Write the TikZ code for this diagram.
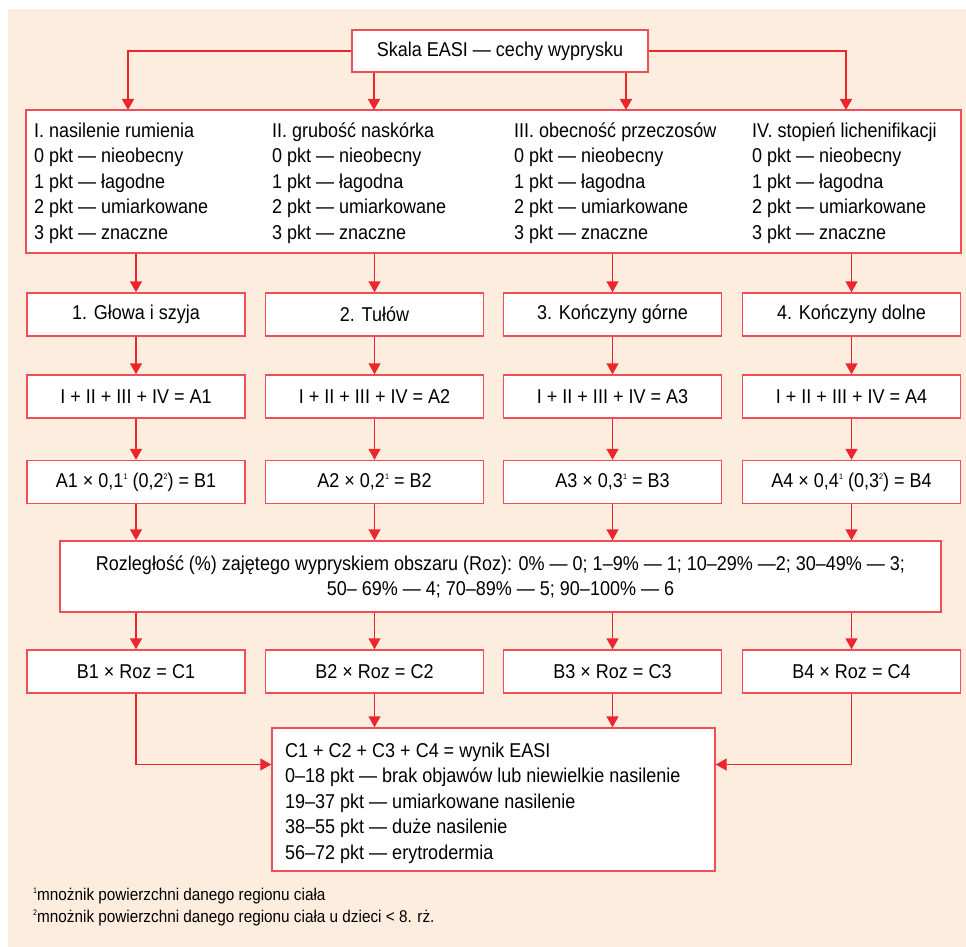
\documentclass[tikz,border=0pt]{standalone}
\usepackage{fontspec}
\setmainfont{Liberation Sans}[FakeStretch=0.9]
\usetikzlibrary{arrows.meta}

\definecolor{easibg}{RGB}{253,237,222}
\definecolor{easired}{RGB}{237,38,46}
\definecolor{easiline}{RGB}{240,78,84}

\newcommand{\fnmark}[1]{\raisebox{0.75ex}{\fontsize{8}{8}\selectfont #1}}

\tikzset{
  box/.style={draw=easiline, line width=1.4pt, fill=white, inner sep=0pt,
              align=center, font=\fontsize{20}{25}\selectfont},
  cell/.style={box, minimum width=218pt, minimum height=43pt},
  txt/.style={inner sep=0pt, align=left, anchor=base west,
              font=\fontsize{20}{25.5}\selectfont},
  note/.style={inner sep=0pt, align=left, anchor=base west,
               font=\fontsize{17}{22}\selectfont},
  arr/.style={draw=easired, line width=1.4pt,
              -{Triangle[width=12pt,length=11pt]}},
}

\begin{document}
\begin{tikzpicture}[x=1pt, y=-1pt]
    \useasboundingbox (0,0) rectangle (966,947);
    \fill[easibg] (8,9) rectangle (966,947);

    \node[box, minimum width=296pt, minimum height=42pt] (top) at (500,51)
      {Skala EASI — cechy wyprysku};

    % base anchor sits on the last line
    \node[box, minimum width=935pt, minimum height=143pt] (crit) at (493.5,181.5) {};
    \node[txt] (k1) at (34,239) {I. nasilenie rumienia\\0 pkt — nieobecny\\1 pkt — łagodne\\2 pkt — umiarkowane\\3 pkt — znaczne};
    \node[txt] (k2) at (272,239) {II. grubość naskórka\\0 pkt — nieobecny\\1 pkt — łagodna\\2 pkt — umiarkowane\\3 pkt — znaczne};
    \node[txt] (k3) at (514,239) {III. obecność przeczosów\\0 pkt — nieobecny\\1 pkt — łagodna\\2 pkt — umiarkowane\\3 pkt — znaczne};
    \node[txt] (k4) at (752,239) {IV. stopień lichenifikacji\\0 pkt — nieobecny\\1 pkt — łagodna\\2 pkt — umiarkowane\\3 pkt — znaczne};

    \foreach \i/\x/\reg/\mul in {
        1/136/{1. Głowa i szyja}/{A1 × 0,1\fnmark{1} (0,2\fnmark{2}) = B1},
        2/374.5/{2. Tułów}/{A2 × 0,2\fnmark{1} = B2},
        3/612.5/{3. Kończyny górne}/{A3 × 0,3\fnmark{1} = B3},
        4/851.5/{4. Kończyny dolne}/{A4 × 0,4\fnmark{1} (0,3\fnmark{2}) = B4}} {
      \node[cell] (r\i) at (\x,314.5) {\reg};
      \node[cell] (a\i) at (\x,396.5) {I + II + III + IV = A\i};
      \node[cell] (b\i) at (\x,482) {\mul};
      \node[cell] (c\i) at (\x,671.5) {B\i\ × Roz = C\i};
    }

    \node[box, minimum width=881pt, minimum height=71pt] (roz) at (500.5,576.5)
      {Rozległość (\%) zajętego wypryskiem obszaru (Roz): 0\% — 0; 1–9\% — 1; 10–29\% —2; 30–49\% — 3;\\50– 69\% — 4; 70–89\% — 5; 90–100\% — 6};

    \node[box, minimum width=443pt, minimum height=143pt] (fin) at (493.5,799.5) {};
    \node[txt] (res) at (285,859) {C1 + C2 + C3 + C4 = wynik EASI\\0–18 pkt — brak objawów lub niewielkie nasilenie\\19–37 pkt — umiarkowane nasilenie\\38–55 pkt — duże nasilenie\\56–72 pkt — erytrodermia};

    \node[note] (fn) at (33,922) {\fnmark{1}mnożnik powierzchni danego regionu ciała\\\fnmark{2}mnożnik powierzchni danego regionu ciała u dzieci < 8. rż.};

    \coordinate (t1) at (128,110);
    \coordinate (t2) at (374,110);
    \coordinate (t3) at (626,110);
    \coordinate (t4) at (846,110);
    \draw[arr] (top.west) -| (t1);
    \draw[arr] (top.south -| t2) -- (t2);
    \draw[arr] (top.south -| t3) -- (t3);
    \draw[arr] (top.east) -| (t4);

    \foreach \i in {1,...,4} {
      \draw[arr] (crit.south -| r\i) -- (r\i);
      \draw[arr] (r\i) -- (a\i);
      \draw[arr] (a\i) -- (b\i);
      \draw[arr] (b\i) -- (b\i |- roz.north);
      \draw[arr] (roz.south -| c\i) -- (c\i);
    }

    \draw[arr] (c1) |- ([yshift=35pt]fin.west);
    \draw[arr] (c2) -- (c2 |- fin.north);
    \draw[arr] (c3) -- (c3 |- fin.north);
    \draw[arr] (c4) |- ([yshift=35pt]fin.east);
\end{tikzpicture}
\end{document}
